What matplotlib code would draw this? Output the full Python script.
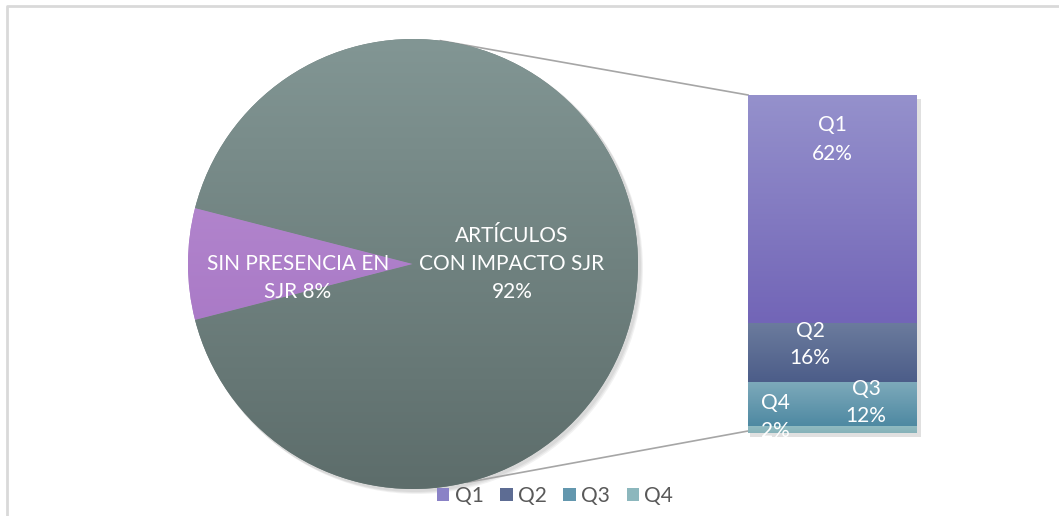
import numpy as np
import matplotlib
matplotlib.use("Agg")
import matplotlib.pyplot as plt
from matplotlib.colors import LinearSegmentedColormap
from matplotlib.patches import Rectangle, Patch, Circle

# ---- data ----
pie_labels = ["SIN PRESENCIA EN\nSJR 8%", "ARTÍCULOS\nCON IMPACTO SJR\n92%"]
pie_values = [8, 92]
bar_labels = ["Q1", "Q2", "Q3", "Q4"]
bar_values = [62, 16, 12, 2]
bar_pct = ["62%", "16%", "12%", "2%"]

plt.rcParams['font.family'] = ['Lato', 'DejaVu Sans']

W, H = 1059, 516
FS = 15
LS = 1.5
fig = plt.figure(figsize=(W / 100, H / 100), dpi=100)
ax = fig.add_axes([0, 0, 1, 1])
ax.set_zorder(1)

def py(y):  # pixel-from-top to data y
    return H - y

cx, cy, R = 413, py(264), 225

def grad(c_top, c_bot):
    return LinearSegmentedColormap.from_list('g', [c_bot, c_top])

# shadow
for i in range(3):
    ax.add_patch(Circle((cx + 2 + i, cy - 2 - i), R + 1, color='black', alpha=0.05, lw=0, zorder=1))

wedges, _ = ax.pie(pie_values, center=(cx, cy), radius=R, startangle=180 - 14.4,
                   counterclock=True, colors=['#ad80c8', '#6e7f7d'],
                   wedgeprops=dict(linewidth=0, zorder=2), frame=True)
ax.set_xlim(0, W)
ax.set_ylim(0, H)
ax.set_aspect('equal')
ax.axis('off')

# chart frame (top + left visible)
ax.plot([7, 7, 1058], [py(516), py(6), py(6)], color='#d9d9d9', lw=2, zorder=0)

grads = [('#bb92d4', '#a06cbf'), ('#829694', '#5d6d6b')]
gy = np.linspace(0, 1, 256).reshape(-1, 1)
for w, (ct, cb) in zip(wedges, grads):
    im = ax.imshow(gy, cmap=grad(ct, cb), origin='lower', aspect='auto',
                   extent=(cx - R, cx + R, cy - R, cy + R), zorder=3)
    im.set_clip_path(w)
ax.set_xlim(0, W)
ax.set_ylim(0, H)

# pie labels
ax.text(298, py(278), pie_labels[0], ha='center', va='center', color='white',
        fontsize=FS, linespacing=LS, zorder=5)
ax.text(512, py(264), pie_labels[1], ha='center', va='center', color='white',
        fontsize=FS, linespacing=LS, zorder=5)

# ---- bar of pie ----
bx0, bx1 = 748, 917
btop, bbot = 95, 433

# bar shadow (in main axes, below the bar axes)
ax.add_patch(Rectangle((bx0 + 2, py(bbot) - 4), bx1 - bx0 + 2, bbot - btop, color='black',
                       alpha=0.12, lw=0, zorder=1))

# connector lines
a1 = np.deg2rad(83)
a2 = np.deg2rad(-76)
ax.plot([cx + R * np.cos(a1), bx0], [cy + R * np.sin(a1), py(btop)], color='#a6a6a6', lw=1.2, zorder=1)
ax.plot([cx + R * np.cos(a2), bx0], [cy + R * np.sin(a2), py(bbot - 2)], color='#a6a6a6', lw=1.2, zorder=1)

bax = fig.add_axes([bx0 / W, (H - bbot) / H, (bx1 - bx0) / W, (bbot - btop) / H])
bax.set_zorder(2)
bar_grads = [('#9591cc', '#7265b7'), ('#6b7b9d', '#4c5d89'),
             ('#7eaabb', '#4e89a2'), ('#92bcc2', '#86b2b9')]
order = [3, 2, 1, 0]  # bottom to top: Q4, Q3, Q2, Q1
bottom = 0
for i in order:
    b = bax.bar(0, bar_values[i], width=1, bottom=bottom, color=bar_grads[i][1], lw=0)[0]
    im = bax.imshow(gy, cmap=grad(*bar_grads[i]), origin='lower', aspect='auto',
                    extent=(-0.5, 0.5, bottom, bottom + bar_values[i]), zorder=2)
    im.set_clip_path(b)
    bottom += bar_values[i]
bax.set_xlim(-0.5, 0.5)
bax.set_ylim(0, sum(bar_values))
bax.axis('off')

# bar labels (figure-level text, above all axes)
lab_pos = {"Q1": (832, 124, 155), "Q2": (810, 330, 359), "Q3": (866, 387, 418), "Q4": (775, 402, 432)}
for lab, pct in zip(bar_labels, bar_pct):
    x, y1, y2 = lab_pos[lab]
    fig.text(x / W, 1 - (y1 + y2) / 2 / H, f"{lab}\n{pct}", ha='center', va='center', color='white',
             fontsize=FS, linespacing=LS, zorder=10)

# legend
handles = [Patch(facecolor=c[0], edgecolor='none') for c in
           [('#8a82c6',), ('#5d6c93',), ('#6397ae',), ('#8cb7bd',)]]
leg = fig.legend(handles, bar_labels, loc='center', bbox_to_anchor=(555 / W, 1 - 496 / H), ncol=4,
                 frameon=False, handlelength=0.6, handleheight=0.6, handletextpad=0.25,
                 columnspacing=0.8, fontsize=FS, labelcolor='#595959')
leg.set_zorder(10)

fig.savefig('out.png', dpi=100)
